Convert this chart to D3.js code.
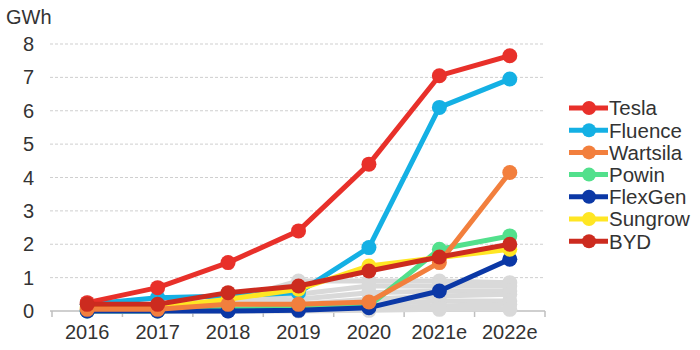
<!DOCTYPE html>
<html>
<head>
<meta charset="utf-8">
<script src="https://cdn.jsdelivr.net/npm/d3@7"></script>
<style>
  body { margin: 0; background: #fff; }
  text { font-family: "Liberation Sans", Arial, sans-serif; fill: #333; }
</style>
</head>
<body>
<div class="chart"></div>
<script>
var years = ['2016', '2017', '2018', '2019', '2020', '2021e', '2022e'];
var yTicks = [0, 1, 2, 3, 4, 5, 6, 7, 8];

var tesla    = [0.25, 0.7, 1.45, 2.4, 4.4, 7.05, 7.65];
var fluence  = [0.2, 0.4, 0.45, 0.55, 1.9, 6.1, 6.95];
var wartsila = [0.05, 0.05, 0.2, 0.2, 0.27, 1.45, 4.15];
var powin    = [0.0, 0.0, 0.05, 0.1, 0.15, 1.85, 2.25];
var flexgen  = [0.0, 0.0, 0.0, 0.02, 0.1, 0.6, 1.55];
var sungrow  = [0.1, 0.1, 0.35, 0.65, 1.35, 1.6, 1.85];
var byd      = [0.2, 0.2, 0.55, 0.75, 1.2, 1.62, 2.0];

// the other vendors, all grey
var others = [
  [0.25, 0.2, 0.3, 0.9, 0.9, 0.9, 0.85],
  [0.1, 0.1, 0.3, 0.5, 0.75, 0.75, 0.75],
  [0.05, 0.05, 0.2, 0.35, 0.55, 0.6, 0.6],
  [0.0, 0.0, 0.1, 0.2, 0.35, 0.45, 0.5],
  [0.0, 0.0, 0.05, 0.1, 0.2, 0.3, 0.3],
  [0.0, 0.0, 0.0, 0.05, 0.1, 0.15, 0.2],
  [0.0, 0.0, 0.0, 0.0, 0.02, 0.05, 0.05]
];

var series = [
  { name: 'Tesla', color: '#e8302a', values: tesla },
  { name: 'Fluence', color: '#14b0e4', values: fluence },
  { name: 'Wartsila', color: '#f27f3d', values: wartsila },
  { name: 'Powin', color: '#52e08c', values: powin },
  { name: 'FlexGen', color: '#0b38a6', values: flexgen },
  { name: 'Sungrow', color: '#ffe623', values: sungrow },
  { name: 'BYD', color: '#cc2b1f', values: byd }
];
var drawOrder = ['Fluence', 'Powin', 'FlexGen', 'Sungrow', 'Wartsila', 'Tesla', 'BYD'];

var width = 700, height = 350;
var svg = d3.select('.chart').append('svg').attr('width', width).attr('height', height);

var x = d3.scaleBand().domain(years).range([52, 545]);
var y = d3.scaleLinear().domain([0, 8]).range([311, 44]);

// grid
svg.append('g').selectAll('line')
  .data(yTicks.filter(function(d) { return d > 0; }))
  .enter().append('line')
  .attr('x1', 50).attr('x2', 545)
  .attr('y1', function(d) { return y(d); }).attr('y2', function(d) { return y(d); })
  .style('stroke', '#cfcfcf').style('stroke-dasharray', '3,2').style('stroke-width', 1);

// y labels
svg.append('g').selectAll('text')
  .data(yTicks)
  .enter().append('text')
  .attr('x', 34).attr('y', function(d) { return y(d); })
  .attr('dy', '0.35em').attr('text-anchor', 'end')
  .style('font-size', '20px')
  .text(function(d) { return d; });

svg.append('text').attr('x', 6).attr('y', 24).style('font-size', '20px').text('GWh');

// x axis
var xAxis = d3.axisBottom(x).tickSize(0).tickPadding(14);
var gx = svg.append('g').attr('transform', 'translate(0,311)').call(xAxis);
gx.select('.domain').remove();
gx.selectAll('text').style('font-size', '20px').style('font-family', '"Liberation Sans", Arial, sans-serif').style('fill', '#333');
svg.append('line').attr('x1', 50).attr('x2', 545).attr('y1', 311).attr('y2', 311)
  .style('stroke', '#bfbfbf').style('stroke-width', 1.5);
svg.append('g').selectAll('line')
  .data(years.concat(['end']))
  .enter().append('line')
  .attr('x1', function(d, i) { return 52 + i * x.step(); })
  .attr('x2', function(d, i) { return 52 + i * x.step(); })
  .attr('y1', 311).attr('y2', 317)
  .style('stroke', '#bfbfbf').style('stroke-width', 1.5);

var line = d3.line()
  .x(function(d, i) { return x(years[i]) + x.bandwidth() / 2; })
  .y(function(d) { return y(d); });

function drawSeries(values, color) {
  var g = svg.append('g');
  g.append('path').attr('d', line(values))
    .style('fill', 'none').style('stroke', color).style('stroke-width', 5)
    .style('stroke-linejoin', 'round');
  g.selectAll('circle').data(values).enter().append('circle')
    .attr('cx', function(d, i) { return x(years[i]) + x.bandwidth() / 2; })
    .attr('cy', function(d) { return y(d); })
    .attr('r', 7.5).style('fill', color);
}

others.forEach(function(v) { drawSeries(v, '#d9d9d9'); });
drawOrder.forEach(function(n) {
  var s = series.find(function(d) { return d.name === n; });
  drawSeries(s.values, s.color);
});

// legend
var legend = svg.append('g').selectAll('g')
  .data(series)
  .enter().append('g')
  .attr('transform', function(d, i) { return 'translate(0,' + (108 + i * 22.2) + ')'; });
legend.append('line').attr('x1', 569).attr('x2', 608).attr('y1', 0).attr('y2', 0)
  .style('stroke', function(d) { return d.color; }).style('stroke-width', 5);
legend.append('circle').attr('cx', 589).attr('cy', 0).attr('r', 7)
  .style('fill', function(d) { return d.color; });
legend.append('text').attr('x', 609).attr('y', 0).attr('dy', '0.36em')
  .style('font-size', '20.5px')
  .text(function(d) { return d.name; });
</script>
</body>
</html>
